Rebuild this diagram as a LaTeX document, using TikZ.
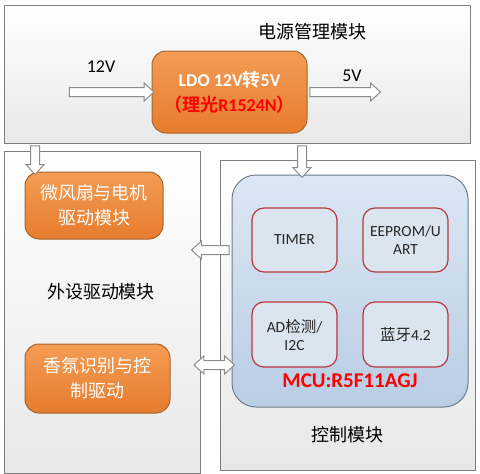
\documentclass[tikz,border=0pt]{standalone}
\usepackage{fontspec}
\setmainfont{Carlito}
\newfontfamily\cjk{Noto Sans CJK SC}[BoldFont={Noto Sans CJK SC Bold}]
\usepackage{tikz}
\usetikzlibrary{arrows.meta,shapes,calc,positioning}

\definecolor{boxline}{HTML}{7F7F7F}
\definecolor{orangetop}{HTML}{F49C55}
\definecolor{orangebot}{HTML}{E67C2E}
\definecolor{orangeline}{HTML}{A8652F}
\definecolor{mcutop}{HTML}{DCE7F3}
\definecolor{mcubot}{HTML}{B9CDE4}
\definecolor{mculine}{HTML}{6E7E90}
\definecolor{unitfill}{HTML}{DAE5F0}
\definecolor{unitline}{HTML}{B8383B}
\definecolor{arrowline}{HTML}{8C8C8C}

% hollow block arrow from #2 to #3
\newcommand\hollowarrow[3][blockarrow]{%
  \path let \p1=#2, \p2=#3, \n1={atan2(\y2-\y1,\x2-\x1)},
    \n2={veclen(\x2-\x1,\y2-\y1)} in
    node[#1, minimum height=\n2, rotate=\n1] at ($(\p1)!0.5!(\p2)$) {};}

\begin{document}
\begin{tikzpicture}[x=1pt,y=-1pt,
  every node/.style={inner sep=2pt},
  modbox/.style={draw=boxline,line width=1pt,top color=white,bottom color=black!9},
  drvbox/.style={draw=orangeline,line width=1pt,rounded corners=14pt,top color=orangetop,
    bottom color=orangebot,text=white,align=center,font=\cjk\fontsize{18}{25}\selectfont},
  mcubox/.style={draw=mculine,line width=1pt,rounded corners=24pt,top color=mcutop,
    bottom color=mcubot},
  unitbox/.style={draw=unitline,line width=1.2pt,rounded corners=12pt,fill=unitfill,
    text=black!85,align=center,font=\fontsize{15.5}{18}\selectfont,
    minimum width=85pt,minimum height=64pt},
  title/.style={font=\cjk\fontsize{18}{20}\selectfont},
  volt/.style={font=\fontsize{18}{20}\selectfont},
  blockarrow/.style={single arrow,draw=arrowline,line width=1pt,fill=white,inner sep=0pt,
    inner ysep=4pt,minimum width=17pt,single arrow head extend=4.5pt,
    single arrow tip angle=85},
  botharrow/.style={double arrow,draw=arrowline,line width=1pt,fill=white,inner sep=0pt,
    inner ysep=4pt,minimum width=17pt,double arrow head extend=4.5pt,
    double arrow tip angle=85},
]
\useasboundingbox (0,0) rectangle (480,474);

% the modules
\node[modbox,minimum width=466pt,minimum height=138pt] (power) at (237,74) {};
\node[modbox,minimum width=196pt,minimum height=322pt] (periph) at (102,312) {};
\node[modbox,minimum width=255pt,minimum height=310pt] (ctrl) at (347.5,315) {};

\node[title] (powertitle) at (312,32) {电源管理模块};
\node[title] (periphtitle) at (101,292) {外设驱动模块};
\node[title] (ctrltitle) at (347,435) {控制模块};

% the LDO
\node[drvbox,minimum width=155pt,minimum height=82pt,font=\bfseries\fontsize{18}{25}\selectfont]
  (ldo) at (229.5,92) {LDO 12V{\cjk 转}5V\\
  \textcolor{red}{{\cjk （理光}R1524N{\cjk ）}}};

% the drivers
\node[drvbox,minimum width=138pt,minimum height=67pt] (fan) at (94,205.5)
  {微风扇与电机\\驱动模块};
\node[drvbox,minimum width=145pt,minimum height=69pt] (aroma) at (97.5,378.5)
  {香氛识别与控\\制驱动};

% the MCU
\node[mcubox,minimum width=236pt,minimum height=232pt] (mcu) at (350,291) {};
\node[unitbox] (timer) at (294.5,240) {TIMER};
\node[unitbox] (eeprom) at (405.5,240) {EEPROM/U\\ART};
\node[unitbox,minimum height=65pt] (adc) at (294.5,334.5) {AD{\cjk 检测}/\\I2C};
\node[unitbox,minimum height=65pt] (ble) at (405.5,334.5) {{\cjk 蓝牙}4.2};
\node[text=red,font=\bfseries\fontsize{21}{23}\selectfont] (mculabel) at (350,381)
  {MCU:R5F11AGJ};

% the arrows
\coordinate (vin) at (67,92);
\coordinate (vout) at (378,92);
\coordinate (fanin) at (35,172);
\coordinate (mcuin) at (302,175);
\coordinate (fanout) at (194,250);
\coordinate (aromaio) at (194,365);
\node[volt] (vinlabel) at (101,67) {12V};
\node[volt] (voutlabel) at (352,76) {5V};

\hollowarrow{(vin)}{(ldo.west)}
\hollowarrow{(ldo.east)}{(vout)}
\hollowarrow{(power.south -| fanin)}{(fanin)}
\hollowarrow{(power.south -| mcuin)}{(mcuin)}
\hollowarrow{(mcu.west |- fanout)}{(fanout)}
\hollowarrow[botharrow]{(aromaio)}{($(mcu.west |- aromaio)+(3,0)$)}
\end{tikzpicture}
\end{document}
